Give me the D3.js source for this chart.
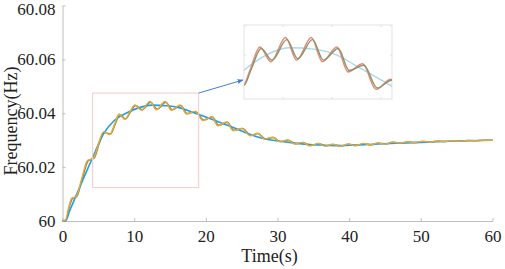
<!DOCTYPE html>
<html>
<head>
<meta charset="utf-8">
<script src="https://cdn.jsdelivr.net/npm/d3@7"></script>
<style>
  body { margin: 0; background: #fff; }
  svg { display: block; }
</style>
</head>
<body>
<script>
// time (s) and frequency offset above 60 Hz
var blueT = [0, 0.4, 1.0, 1.75, 3.0, 4.1, 5.7, 7.3, 9.0, 10.5, 12.5, 14.5, 16.4, 18.0, 20.0, 22.0, 24.0, 26.2, 28.0, 30.0, 32.4, 35.0, 38.0, 41.0, 44.0, 47.0, 50.0, 55.0, 60.0];
var blueV = [0, 0, 0.0038, 0.0085, 0.0163, 0.0229, 0.0323, 0.0375, 0.0402, 0.0419, 0.0430, 0.0428, 0.0420, 0.0405, 0.0386, 0.0366, 0.0345, 0.0321, 0.0306, 0.0297, 0.0289, 0.0283, 0.0280, 0.0282, 0.0286, 0.0289, 0.0292, 0.0297, 0.0300];

var orangeT = [0, 0.4, 0.9, 1.3, 1.9, 2.6, 3.5, 4.3, 5.0, 5.7, 6.6, 7.2, 7.9, 8.7, 9.3, 10.1, 11.0, 12.2, 13.1, 14.3, 15.2, 16.4, 17.3, 18.5, 19.6, 20.8, 21.7, 22.9, 23.8, 25.0, 26.2, 27.2, 28.2, 29.3, 30.3, 31.4, 32.4, 33.5, 34.5, 35.7, 36.6, 37.7, 38.7, 39.9, 40.8, 42.0, 43.0, 44.0, 45.0, 46.1, 47.0, 48.2, 49.1, 50.2, 51.2, 52.3, 53.3, 54.4, 55.4, 56.5, 57.5, 58.6, 60.0];
var orangeV = [0, 0.0003, 0.0055, 0.0085, 0.0090, 0.0150, 0.0225, 0.0232, 0.0285, 0.0331, 0.0321, 0.0355, 0.0397, 0.0377, 0.0400, 0.0431, 0.0411, 0.0444, 0.0413, 0.0444, 0.0411, 0.0431, 0.0397, 0.0408, 0.0373, 0.0387, 0.0353, 0.0368, 0.0335, 0.0344, 0.0316, 0.0326, 0.0304, 0.0311, 0.0294, 0.0301, 0.0286, 0.0292, 0.0279, 0.0288, 0.0278, 0.0285, 0.0277, 0.0286, 0.0279, 0.0288, 0.0282, 0.0290, 0.0285, 0.0293, 0.0289, 0.0294, 0.0291, 0.0296, 0.0293, 0.0297, 0.0295, 0.0298, 0.0296, 0.0299, 0.0298, 0.0300, 0.0300];

var oliveT = [0, 0.5, 1.0, 1.4, 2.0, 2.7, 3.6, 4.4, 5.1, 5.8, 6.7, 7.3, 8.0, 8.8, 9.4, 10.2, 11.1, 12.3, 13.2, 14.4, 15.3, 16.5, 17.4, 18.6, 19.7, 20.9, 21.8, 23.0, 23.9, 25.1, 26.3, 27.3, 28.3, 29.4, 30.4, 31.5, 32.5, 33.6, 34.6, 35.8, 36.7, 37.8, 38.8, 40.0, 40.9, 42.1, 43.1, 44.1, 45.1, 46.2, 47.1, 48.3, 49.2, 50.3, 51.3, 52.4, 53.4, 54.5, 55.5, 56.6, 57.6, 58.7, 60.0];
var oliveV = [0, 0.0004, 0.0057, 0.0084, 0.0091, 0.0152, 0.0224, 0.0233, 0.0286, 0.0329, 0.0323, 0.0356, 0.0395, 0.0379, 0.0401, 0.0429, 0.0413, 0.0441, 0.0415, 0.0441, 0.0413, 0.0429, 0.0399, 0.0406, 0.0375, 0.0386, 0.0355, 0.0367, 0.0337, 0.0343, 0.0318, 0.0325, 0.0305, 0.0310, 0.0295, 0.0300, 0.0287, 0.0291, 0.0280, 0.0287, 0.0279, 0.0284, 0.0278, 0.0285, 0.0280, 0.0287, 0.0283, 0.0289, 0.0286, 0.0292, 0.0289, 0.0293, 0.0291, 0.0295, 0.0293, 0.0297, 0.0295, 0.0298, 0.0297, 0.0299, 0.0298, 0.0300, 0.0300];

var xTicks = [0, 10, 20, 30, 40, 50, 60];
var yTicks = [60, 60.02, 60.04, 60.06, 60.08];

// zoomed region marked on the main plot and the range shown in the inset
var zoomBoxT = [4.2, 19];
var zoomBoxV = [60.0124, 60.0475];
var insetT = [8.8, 20.9];
var insetV = [60.036, 60.0461];

function pts(ts, vs) {
    var out = [];
    for (let i = 0; i < ts.length; i++) {
        out.push([ts[i], 60 + vs[i]]);
    }
    return out;
}
var blue = pts(blueT, blueV);
var orange = pts(orangeT, orangeV);
var olive = pts(oliveT, oliveV);

var width = 505, height = 269;
var svg = d3.select("body").append("svg")
    .attr("width", width)
    .attr("height", height);

var x = d3.scaleLinear().domain([0, 60]).range([62.5, 492.5]);
var y = d3.scaleLinear().domain([60, 60.08]).range([221, 5.5]);

var axisColor = "#bdbdbd";
var font = "'Liberation Serif', 'Times New Roman', serif";

// x axis
var gx = svg.append("g").attr("transform", "translate(0," + y(60) + ")")
    .call(d3.axisBottom(x).tickValues(xTicks).tickSizeInner(-3).tickSizeOuter(0).tickPadding(9).tickFormat(d3.format("d")));
// y axis
var gy = svg.append("g").attr("transform", "translate(" + x(0) + ",0)")
    .call(d3.axisLeft(y).tickValues(yTicks).tickSizeInner(-3).tickSizeOuter(0).tickPadding(7)
        .tickFormat(function(d) { return d == 60 ? "60" : d.toFixed(2); }));

[gx, gy].forEach(function(g) {
    g.select(".domain").attr("stroke", axisColor);
    g.selectAll(".tick line").attr("stroke", axisColor);
    g.selectAll(".tick text").attr("fill", "#222").attr("font-family", font).attr("font-size", "17px");
});
// top label sits a little lower so it is not cut
gy.selectAll(".tick text").filter(d => d == 60.08).attr("dy", "0.55em");

svg.append("text")
    .attr("x", x(30) - 8).attr("y", 262)
    .attr("text-anchor", "middle")
    .attr("font-family", font).attr("font-size", "18px").attr("fill", "#222")
    .text("Time(s)");

svg.append("text")
    .attr("transform", "translate(17,121) rotate(-90)")
    .attr("text-anchor", "middle")
    .attr("font-family", font).attr("font-size", "18px").attr("fill", "#222")
    .text("Frequency(Hz)");

// curves
var line = d3.line().x(d => x(d[0])).y(d => y(d[1])).curve(d3.curveMonotoneX);

svg.append("path").datum(olive).attr("d", line)
    .attr("fill", "none").attr("stroke", "#8e8549").attr("stroke-width", 1.5);
svg.append("path").datum(blue).attr("d", line)
    .attr("fill", "none").attr("stroke", "#1f9fe0").attr("stroke-width", 1.6);
svg.append("path").datum(orange).attr("d", line)
    .attr("fill", "none").attr("stroke", "#e9a93a").attr("stroke-width", 1.4);

// pink zoom box
svg.append("rect")
    .attr("x", x(zoomBoxT[0])).attr("y", y(zoomBoxV[1]))
    .attr("width", x(zoomBoxT[1]) - x(zoomBoxT[0]))
    .attr("height", y(zoomBoxV[0]) - y(zoomBoxV[1]))
    .attr("fill", "none").attr("stroke", "#f5c9cc").attr("stroke-width", 1);

// inset
var ix = d3.scaleLinear().domain(insetT).range([244, 392]);
var iy = d3.scaleLinear().domain(insetV).range([99, 25]);

var defs = svg.append("defs");
defs.append("clipPath").attr("id", "insetClip")
    .append("rect").attr("x", 244).attr("y", 25).attr("width", 148).attr("height", 74);
defs.append("marker").attr("id", "arrow")
    .attr("viewBox", "0 0 10 10").attr("refX", 9).attr("refY", 5)
    .attr("markerWidth", 6).attr("markerHeight", 6).attr("orient", "auto")
    .append("path").attr("d", "M0,1 L10,5 L0,9 z").attr("fill", "#3f7fd6");

var inset = svg.append("g");
inset.append("rect").attr("x", 244).attr("y", 25).attr("width", 148).attr("height", 74)
    .attr("fill", "#fff").attr("stroke", "#e3e3e3");

// faint inset ticks
[12, 16, 20].forEach(function(t) {
    inset.append("line").attr("x1", ix(t)).attr("x2", ix(t)).attr("y1", 25).attr("y2", 27).attr("stroke", "#e0e0e0");
    inset.append("line").attr("x1", ix(t)).attr("x2", ix(t)).attr("y1", 99).attr("y2", 97).attr("stroke", "#e0e0e0");
});
[60.038, 60.042, 60.046].forEach(function(v) {
    inset.append("line").attr("x1", 244).attr("x2", 246).attr("y1", iy(v)).attr("y2", iy(v)).attr("stroke", "#e0e0e0");
    inset.append("line").attr("x1", 392).attr("x2", 390).attr("y1", iy(v)).attr("y2", iy(v)).attr("stroke", "#e0e0e0");
});

var iline = d3.line().x(d => ix(d[0])).y(d => iy(d[1])).curve(d3.curveMonotoneX);
var ic = inset.append("g").attr("clip-path", "url(#insetClip)");
ic.append("path").datum(blue).attr("d", iline)
    .attr("fill", "none").attr("stroke", "#a6d8f0").attr("stroke-width", 1.4);
ic.append("path").datum(orange).attr("d", iline)
    .attr("fill", "none").attr("stroke", "#e58c7c").attr("stroke-width", 1.5);
ic.append("path").datum(olive).attr("d", iline)
    .attr("fill", "none").attr("stroke", "#8c946a").attr("stroke-width", 1.4);

// arrow from zoom box to inset
svg.append("line")
    .attr("x1", x(zoomBoxT[1])).attr("y1", y(zoomBoxV[1]))
    .attr("x2", 243).attr("y2", 80)
    .attr("stroke", "#3f7fd6").attr("stroke-width", 1)
    .attr("marker-end", "url(#arrow)");
</script>
</body>
</html>
